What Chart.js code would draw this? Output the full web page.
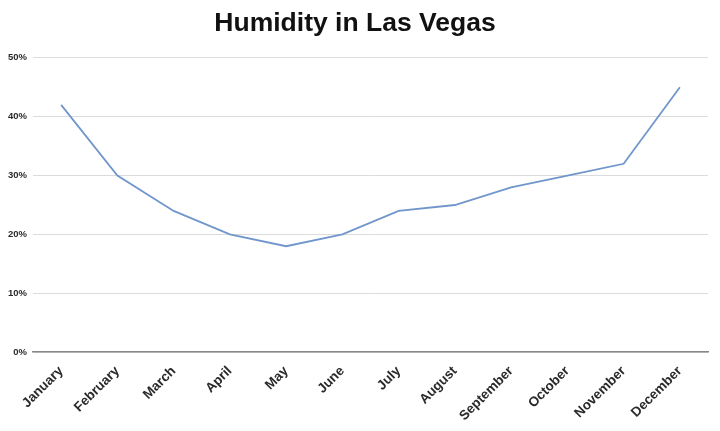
<!DOCTYPE html>
<html>
<head>
<meta charset="utf-8">
<script src="https://cdn.jsdelivr.net/npm/chart.js@4"></script>
<style>
html,body{margin:0;padding:0;background:#fff;}
#wrap{width:720px;height:431px;}
</style>
</head>
<body>
<div id="wrap"><canvas id="c" width="720" height="431"></canvas></div>
<script>
const months = ["January","February","March","April","May","June","July","August","September","October","November","December"];
const humidity = [42,30,24,20,18,20,24,25,28,30,32,45];
const yTicks = [0,10,20,30,40,50];

new Chart(document.getElementById('c'), {
  type: 'line',
  data: {
    labels: months,
    datasets: [{
      label: 'Humidity',
      data: humidity,
      borderColor: '#7096cc',
      borderWidth: 1.8,
      pointRadius: 0,
      tension: 0,
      fill: false
    }]
  },
  options: {
    responsive: false,
    animation: false,
    devicePixelRatio: 1,
    layout: { padding: { left: 2, right: 12, top: 4, bottom: 4 } },
    plugins: {
      legend: { display: false },
      tooltip: { enabled: false },
      title: {
        display: true,
        text: 'Humidity in Las Vegas',
        color: '#111',
        font: { family: 'Liberation Sans, Arial, sans-serif', size: 26.5, weight: 'bold' },
        padding: { top: 4, bottom: 18 }
      }
    },
    scales: {
      x: {
        offset: true,
        grid: { display: false },
        border: { display: true, color: '#888', width: 1.5 },
        ticks: {
          color: '#2a2a2a',
          minRotation: 45,
          maxRotation: 45,
          padding: 3,
          font: { family: 'Liberation Sans, Arial, sans-serif', size: 13.5, weight: 'bold' }
        }
      },
      y: {
        min: 0,
        max: 50,
        afterBuildTicks: (axis) => { axis.ticks = yTicks.map(v => ({ value: v })); },
        grid: { color: '#dcdcdc', drawTicks: false, lineWidth: 1 },
        border: { display: false },
        ticks: {
          color: '#2a2a2a',
          padding: 6,
          callback: (v) => v + '%',
          font: { family: 'Liberation Sans, Arial, sans-serif', size: 9.5, weight: 'bold' }
        }
      }
    }
  }
});
</script>
</body>
</html>
